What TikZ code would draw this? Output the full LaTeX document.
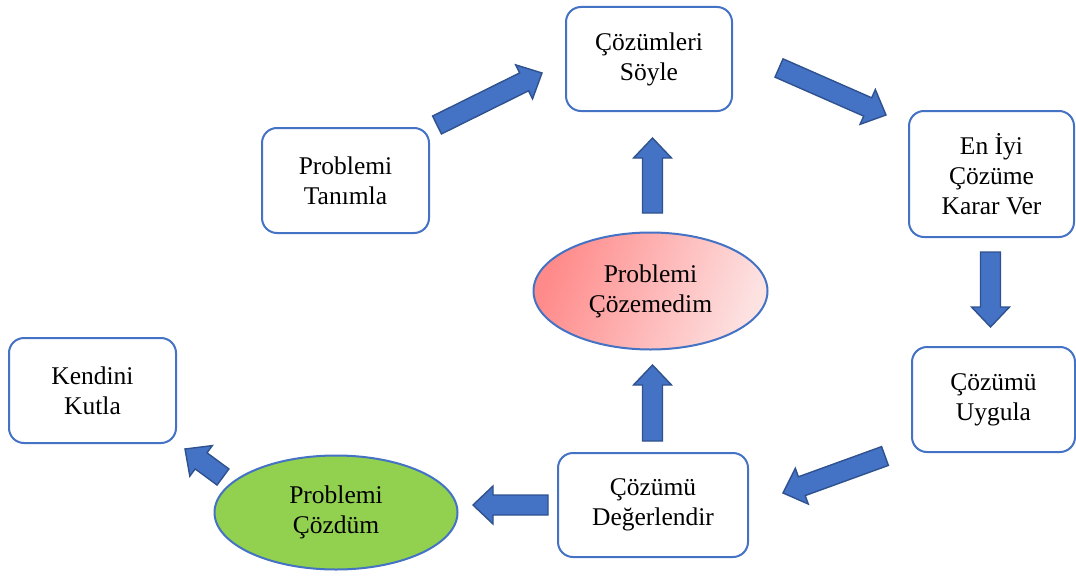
\documentclass[tikz,border=0pt]{standalone}
\usepackage{fontspec}
\setmainfont{Liberation Serif}
\usetikzlibrary{calc,shapes.geometric}
\definecolor{bblue}{HTML}{4472C4}
\definecolor{bdark}{HTML}{2F528F}
\definecolor{lgreen}{HTML}{92D050}
\definecolor{pinkA}{HTML}{FF8A8A}
\definecolor{pinkB}{HTML}{FDE2E2}
\tikzset{
  box/.style={draw=bblue, line width=2pt, rounded corners=15pt, fill=white},
  lbl/.style={align=center, font=\fontsize{25.5}{30}\selectfont},
  ell/.style={ellipse, draw=bblue, line width=2pt, align=center, inner sep=0pt,
    font=\fontsize{25.5}{30}\selectfont},
  blockarr/.style={fill=bblue, draw=bdark, line width=1.4pt, line join=miter}
}
\newcommand\barrow[2]{%
  \coordinate (nk) at ($(#2)!20pt!(#1)$);
  \draw[blockarr] ($(#1)!10pt!90:(#2)$) -- ($(nk)!10pt!-90:(#1)$) -- ($(nk)!19pt!-90:(#1)$)
    -- (#2) -- ($(nk)!19pt!90:(#1)$) -- ($(nk)!10pt!90:(#1)$) -- ($(#1)!10pt!-90:(#2)$) -- cycle;}
\begin{document}
\begin{tikzpicture}[x=1pt,y=-1pt]
\useasboundingbox (0,0) rectangle (1076,578);
% boxes
\path[box] (262,128) rectangle (429,233);
\node[lbl] (tan) at (345.5,180.5) {Problemi\\Tanımla};
\path[box] (566,7) rectangle (732,111);
\node[lbl] (soy) at (649,59) {Çözümleri\\Söyle};
\path[box] (909,111) rectangle (1074,237);
\node[lbl] (kar) at (991.5,174) {En İyi\\Çözüme\\Karar Ver};
\path[box] (912,347) rectangle (1075,452);
\node[lbl] (uyg) at (993.5,399.5) {Çözümü\\Uygula};
\path[box] (558,453) rectangle (748,557);
\node[lbl] (deg) at (653,505) {Çözümü\\Değerlendir};
\path[box] (9,338) rectangle (176,443);
\node[lbl] (kut) at (92.5,390.5) {Kendini\\Kutla};
% ellipses
\node[ell, minimum width=234pt, minimum height=117pt, left color=pinkA, right color=pinkB, shading angle=70] (cozeme) at (650.5,291) {Problemi\\Çözemedim};
\node[ell, minimum width=243pt, minimum height=114pt, fill=lgreen] (cozdum) at (336,512.5) {Problemi\\Çözdüm};
% arrow end points
\coordinate (a1s) at (437,125); \coordinate (a1e) at (542,73);
\coordinate (a2s) at (779,68); \coordinate (a2e) at (886,115);
\coordinate (a3s) at (990.5,252); \coordinate (a3e) at (990.5,327);
\coordinate (a4s) at (885,456); \coordinate (a4e) at (783,493);
\coordinate (a5s) at (652.5,441); \coordinate (a5e) at (652.5,365);
\coordinate (a6s) at (652.5,213); \coordinate (a6e) at (652.5,138);
\coordinate (a7s) at (548,505); \coordinate (a7e) at (473,505);
\coordinate (a8s) at (223,477); \coordinate (a8e) at (185,449);
\barrow{a1s}{a1e}
\barrow{a2s}{a2e}
\barrow{a3s}{a3e}
\barrow{a4s}{a4e}
\barrow{a5s}{a5e}
\barrow{a6s}{a6e}
\barrow{a7s}{a7e}
\barrow{a8s}{a8e}
\end{tikzpicture}
\end{document}
